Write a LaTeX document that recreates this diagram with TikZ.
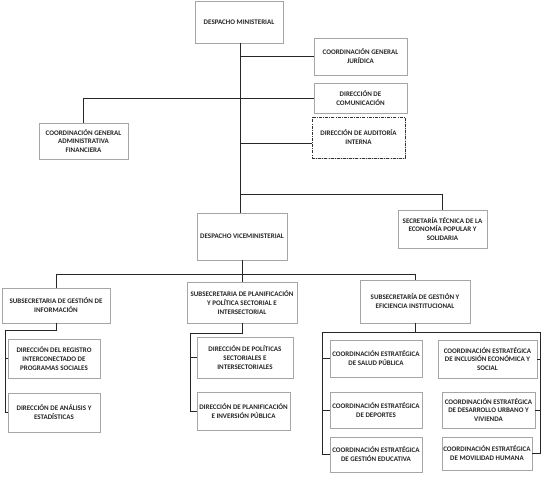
\documentclass[tikz,border=0pt]{standalone}
\usepackage{fontspec}
\setmainfont{Carlito}
\usetikzlibrary{shadows}
\newcommand{\bx}[6]{%
  \node[box,minimum width={(#4)-(#2)},minimum height={(#5)-(#3)}] (#1) at ({((#2)+(#4))/2},{((#3)+(#5))/2}) {#6};}
\begin{document}
\begin{tikzpicture}[x=1pt,y=-1pt,
  box/.style={draw=black!35,line width=0.7pt,fill=white,align=center,inner sep=1pt,
    font=\fontsize{7}{8.9}\selectfont\bfseries,text=black!85,
    drop shadow={shadow xshift=0.6pt,shadow yshift=-0.6pt,fill=black!18,opacity=1}},
  dashbox/.style={box,draw=black!80,dash pattern=on 3pt off 1.2pt on 0.8pt off 1.2pt,line width=0.9pt},
  conn/.style={draw=black!85,line width=0.8pt}]
\useasboundingbox (0,0) rectangle (546,483);
\bx{dm}{195}{1}{283}{43}{DESPACHO MINISTERIAL}
\bx{cgj}{314}{38}{407}{75}{COORDINACIÓN GENERAL\\JURÍDICA}
\bx{dc}{314}{83}{407}{113}{DIRECCIÓN DE\\COMUNICACIÓN}
\node[dashbox,minimum width=93,minimum height=41] (dai) at (358.5,137.5) {DIRECCIÓN DE AUDITORÍA\\INTERNA};
\bx{cgaf}{39}{123}{128}{159}{COORDINACIÓN GENERAL\\ADMINISTRATIVA\\FINANCIERA}
\bx{dv}{197}{213}{287}{260}{DESPACHO VICEMINISTERIAL}
\bx{st}{398}{210}{487}{248}{SECRETARÍA TÉCNICA DE LA\\ECONOMÍA POPULAR Y\\SOLIDARIA}
\bx{sgi}{2}{288}{110}{323}{SUBSECRETARIA DE GESTIÓN DE\\INFORMACIÓN}
\bx{spp}{187}{282}{297}{323}{SUBSECRETARIA DE PLANIFICACIÓN\\Y POLÍTICA SECTORIAL E\\INTERSECTORIAL}
\bx{sge}{360}{280}{470}{323}{SUBSECRETARÍA DE GESTIÓN Y\\EFICIENCIA INSTITUCIONAL}
\bx{drp}{8}{339}{100}{378}{DIRECCIÓN DEL REGISTRO\\INTERCONECTADO DE\\PROGRAMAS SOCIALES}
\bx{dae}{8}{393}{100}{432}{DIRECCIÓN DE ANÁLISIS Y\\ESTADÍSTICAS}
\bx{dps}{197}{337}{293}{378}{DIRECCIÓN DE POLÍTICAS\\SECTORIALES E\\INTERSECTORIALES}
\bx{dpi}{197}{392}{290}{430}{DIRECCIÓN DE PLANIFICACIÓN\\E INVERSIÓN PÚBLICA}
\bx{csp}{330}{340}{422}{377}{COORDINACIÓN ESTRATÉGICA\\DE SALUD PÚBLICA}
\bx{cd}{330}{392}{422}{428}{COORDINACIÓN ESTRATÉGICA\\DE DEPORTES}
\bx{cge}{330}{437}{422}{472}{COORDINACIÓN ESTRATÉGICA\\DE GESTIÓN EDUCATIVA}
\bx{cie}{438}{340}{537}{378}{COORDINACIÓN ESTRATÉGICA\\DE INCLUSIÓN ECONÓMICA Y\\SOCIAL}
\bx{cdu}{442}{392}{535}{428}{COORDINACIÓN ESTRATÉGICA\\DE DESARROLLO URBANO Y\\VIVIENDA}
\bx{cmh}{442}{437}{532}{470}{COORDINACIÓN ESTRATÉGICA\\DE MOVILIDAD HUMANA}
% helper coordinates
\coordinate (t) at (240,0);
\coordinate (h1) at (0,194);
\coordinate (h2) at (0,274);
\coordinate (la) at (5,330);
\coordinate (lb) at (190,333);
\coordinate (lc) at (322,332);
\coordinate (rc) at (540,332);
\coordinate (audy) at (0,143);
\begin{scope}[conn]
\draw (dm.south -| t) -- (dv.north -| t);
\draw (cgj.west -| t) -- (cgj.west);
\draw (cgaf.north) -- (cgaf.north |- dc.west) -- (dc.west);
\draw (audy -| t) -- (audy -| dai.west);
\draw (h1 -| t) -- (h1 -| st.north) -- (st.north);
\draw (dv.south) -- (h2 -| dv.south);
\draw (sgi.north) -- (h2 -| sgi.north) -- (h2 -| sge.north) -- (sge.north);
\draw (h2 -| spp.north) -- (spp.north);
% sgi branch
\draw (sgi.south) -- (la -| sgi.south) -- (la) -- (la |- dae.west) -- (dae.west);
\draw (la |- drp.west) -- (drp.west);
% spp branch
\draw (spp.south) -- (lb -| spp.south) -- (lb) -- (lb |- dpi.west) -- (dpi.west);
\draw (lb |- dps.west) -- (dps.west);
% sge branch
\draw (sge.south) -- (lc -| sge.south);
\draw (cge.west) -- (lc |- cge.west) -- (lc) -- (rc) -- (rc |- cmh.east) -- (cmh.east);
\draw (lc |- csp.west) -- (csp.west);
\draw (lc |- cd.west) -- (cd.west);
\draw (rc |- cie.east) -- (cie.east);
\draw (rc |- cdu.east) -- (cdu.east);
\end{scope}
\end{tikzpicture}
\end{document}
